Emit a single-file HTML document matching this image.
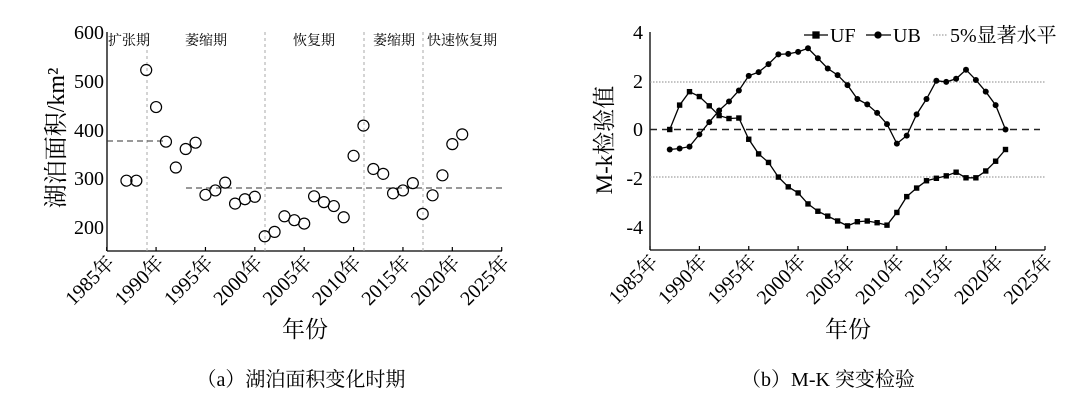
<!DOCTYPE html>
<html><head><meta charset="utf-8"><style>
html,body{margin:0;padding:0;background:#fff;}
svg{display:block;font-family:"Liberation Serif","Noto Serif CJK SC",serif;}
</style></head><body>
<svg id="s" width="1089" height="400" viewBox="0 0 1089 400" xmlns="http://www.w3.org/2000/svg">
<rect width="1089" height="400" fill="#fff"/>
<g stroke="#000" fill="none">
<line x1="107" y1="32" x2="107" y2="251" stroke-width="1.3"/>
<line x1="107" y1="251" x2="502" y2="251" stroke-width="1.3"/>
<g stroke="#aaa" stroke-dasharray="3,3" stroke-width="1"><line x1="147" y1="32" x2="147" y2="251"/><line x1="265" y1="32" x2="265" y2="251"/><line x1="364" y1="32" x2="364" y2="251"/><line x1="423" y1="32" x2="423" y2="251"/></g>
<g stroke="#333" stroke-dasharray="6,4" stroke-width="1"><line x1="107" y1="141" x2="163" y2="141"/><line x1="186" y1="188" x2="502" y2="188"/></g>
</g>
<g font-size="20" text-anchor="end" fill="#000">
<text x="104" y="39">600</text><text x="104" y="88">500</text><text x="104" y="137">400</text><text x="104" y="185">300</text><text x="104" y="234">200</text>
</g>
<g font-size="14" fill="#000" font-family="'Noto Serif CJK SC',serif">
<text x="108" y="45">扩张期</text><text x="185" y="45">萎缩期</text><text x="293" y="45">恢复期</text><text x="373" y="45">萎缩期</text><text x="427" y="45">快速恢复期</text>
</g>
<text transform="translate(64,138) rotate(-90)" font-size="24" text-anchor="middle">湖泊面积/km²</text>
<text x="305" y="337" font-size="23" text-anchor="middle">年份</text>
<text x="301" y="386" font-size="20" text-anchor="middle">（a）湖泊面积变化时期</text>
<g stroke="#000" fill="none">
<line x1="650" y1="32" x2="650" y2="250" stroke-width="1.3"/>
<line x1="650" y1="250" x2="1045" y2="250" stroke-width="1.3"/>
<g stroke="#888" stroke-dasharray="1.5,1.5" stroke-width="1"><line x1="650" y1="82" x2="1045" y2="82"/><line x1="650" y1="177" x2="1045" y2="177"/></g>
<line x1="650" y1="129.5" x2="1040" y2="129.5" stroke="#222" stroke-dasharray="7,5" stroke-width="1.5"/>
</g>
<g font-size="20" text-anchor="end" fill="#000">
<text x="643" y="39">4</text><text x="643" y="88">2</text><text x="643" y="136">0</text><text x="643" y="185">-2</text><text x="643" y="234">-4</text>
</g>
<text transform="translate(612,140) rotate(-90)" font-size="23" text-anchor="middle">M-k检验值</text>
<text x="848" y="337" font-size="23" text-anchor="middle">年份</text>
<text x="828" y="386" font-size="20" text-anchor="middle">（b）M-K 突变检验</text>
<g stroke="#000" stroke-width="1.3">
<line x1="804" y1="35" x2="828" y2="35"/><rect x="813" y="32" width="6" height="6" fill="#000"/>
<line x1="866" y1="35" x2="891" y2="35"/><circle cx="878" cy="35" r="3" fill="#000"/>
<line x1="933" y1="35" x2="948" y2="35" stroke="#888" stroke-dasharray="1.5,1.5" stroke-width="1"/>
</g>
<g font-size="20" fill="#000"><text x="830" y="42">UF</text><text x="893" y="42">UB</text><text x="950" y="42">5%显著水平</text></g>
</svg>
<script>
var s=document.getElementById('s'),NS='http://www.w3.org/2000/svg';
function el(t,a){var e=document.createElementNS(NS,t);for(var k in a)e.setAttribute(k,a[k]);s.appendChild(e);return e;}
var A=[295,295,522,446,375,322,360,373,266,275,291,248,257,262,181,190,222,214,207,263,251,243,220,346,408,319,309,269,275,290,227,265,306,370,390];
A.forEach(function(v,i){el('circle',{cx:106.7+(i+2)*9.875,cy:227-(v-200)*0.4875,r:5.5,fill:'none',stroke:'#000','stroke-width':1.2});});
function ticks(x0,y0){for(var k=0;k<=8;k++){var x=x0+k*49.375;el('line',{x1:x,y1:y0,x2:x,y2:y0-4,stroke:'#000','stroke-width':1.2});
var t=el('text',{transform:'translate('+(x+9)+','+(y0+13)+') rotate(-45)','text-anchor':'end','font-size':20,fill:'#000'});t.textContent=(1985+5*k)+'年';}}
ticks(106.7,251);ticks(650,250);
var UF=[0,1.0,1.55,1.35,0.97,0.57,0.45,0.47,-0.4,-1.0,-1.35,-1.95,-2.35,-2.6,-3.05,-3.35,-3.55,-3.75,-3.95,-3.78,-3.75,-3.82,-3.92,-3.4,-2.75,-2.4,-2.1,-2.0,-1.9,-1.75,-1.98,-1.98,-1.7,-1.3,-0.82];
var UB=[-0.82,-0.78,-0.7,-0.2,0.3,0.78,1.15,1.6,2.2,2.35,2.68,3.08,3.1,3.18,3.33,2.92,2.5,2.23,1.82,1.25,1.03,0.68,0.22,-0.58,-0.25,0.62,1.25,2.0,1.95,2.08,2.45,2.03,1.55,1.0,0.0];
function X(i){return 650+(i+2)*9.875;}function Y(v){return 129.5-v*24.4;}
[UF,UB].forEach(function(d,j){el('polyline',{points:d.map(function(v,i){return X(i)+','+Y(v)}).join(' '),fill:'none',stroke:'#000','stroke-width':1.3});
d.forEach(function(v,i){if(j==0)el('rect',{x:X(i)-2.7,y:Y(v)-2.7,width:5.4,height:5.4,fill:'#000'});else el('circle',{cx:X(i),cy:Y(v),r:3,fill:'#000'});});});
</script>
</body></html>
